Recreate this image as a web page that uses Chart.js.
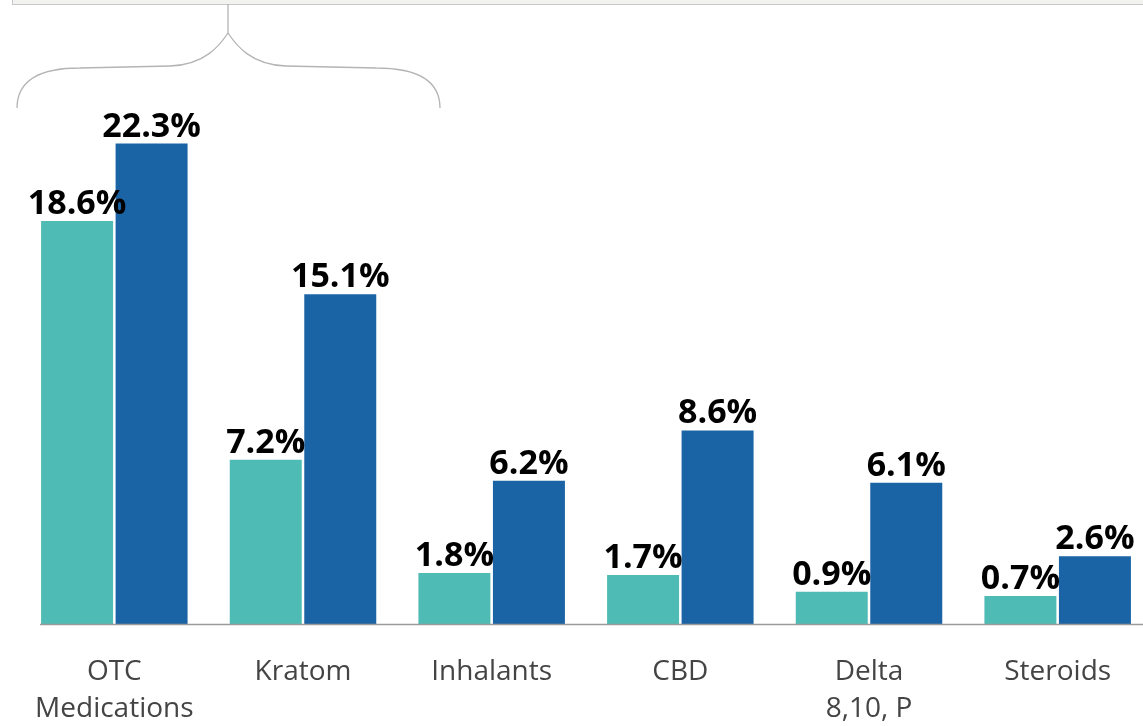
<!DOCTYPE html>
<html lang="en">
<head>
    <meta charset="UTF-8">
    <title>Substance use comparison</title>
    <script src="https://cdn.jsdelivr.net/npm/chart.js"></script>
    <style>
        html, body {
            margin: 0;
            padding: 0;
            background: #fff;
            overflow: hidden;
            width: 1143px;
            height: 726px;
        }
        .top-box {
            position: absolute;
            top: -20px;
            left: 12px;
            width: 1200px;
            height: 23px;
            background: #f2f2f0;
            border: 1.5px solid #c9c9c9;
        }
        #chart {
            position: absolute;
            top: 0;
            left: 0;
        }
    </style>
</head>
<body>
    <div class="top-box"></div>
    <canvas id="chart" width="1160" height="726"></canvas>

    <script>
        // Datos del gráfico
        const categories = [['OTC', 'Medications'], 'Kratom', 'Inhalants', 'CBD', ['Delta', '8,10, P'], 'Steroids'];
        const seriesA = [18.6, 7.2, 1.8, 1.7, 0.9, 0.7];
        const seriesB = [22.3, 15.1, 6.2, 8.6, 6.1, 2.6];
        const yMin = -0.64;
        const yMax = 25;

        // Etiquetas encima de las barras + línea base + llave
        const decoPlugin = {
            id: 'deco',
            afterDatasetsDraw(chart) {
                const ctx = chart.ctx;
                ctx.save();
                ctx.font = 'bold 34px "Open Sans", sans-serif';
                ctx.fillStyle = '#000';
                ctx.textAlign = 'center';
                ctx.textBaseline = 'alphabetic';
                chart.data.datasets.forEach((ds, i) => {
                    chart.getDatasetMeta(i).data.forEach((bar, j) => {
                        ctx.fillText(ds.data[j].toFixed(1) + '%', bar.x, bar.y - 7);
                    });
                });

                // línea base
                const first = chart.getDatasetMeta(0).data[0];
                const y0 = chart.scales.y.bottom;
                ctx.strokeStyle = '#9a9a9a';
                ctx.lineWidth = 1.5;
                ctx.beginPath();
                ctx.moveTo(first.x - first.width / 2 - 1, y0 + 0.5);
                ctx.lineTo(chart.width, y0 + 0.5);
                ctx.stroke();

                // llave superior
                ctx.strokeStyle = '#b4b4b4';
                ctx.lineWidth = 1.3;
                ctx.beginPath();
                ctx.moveTo(17, 108);
                ctx.bezierCurveTo(17, 80, 40, 68, 80, 68);
                ctx.lineTo(170, 66);
                ctx.bezierCurveTo(205, 65, 220, 45, 228, 33);
                ctx.lineTo(228, 4);
                ctx.moveTo(228, 33);
                ctx.bezierCurveTo(236, 45, 251, 65, 286, 66);
                ctx.lineTo(376, 68);
                ctx.bezierCurveTo(416, 68, 440, 80, 440, 108);
                ctx.stroke();
                ctx.restore();
            }
        };

        new Chart(document.getElementById('chart'), {
            type: 'bar',
            data: {
                labels: categories,
                datasets: [
                    { data: seriesA, backgroundColor: '#4ebcb5', base: yMin },
                    { data: seriesB, backgroundColor: '#1a63a5', base: yMin }
                ]
            },
            options: {
                responsive: false,
                animation: false,
                categoryPercentage: 0.79,
                barPercentage: 0.966,
                layout: { padding: { left: 20, right: 8, top: 87, bottom: 0 } },
                plugins: {
                    legend: { display: false },
                    tooltip: { enabled: false }
                },
                scales: {
                    x: {
                        grid: { display: false, drawTicks: false },
                        border: { display: false },
                        ticks: {
                            color: '#444',
                            font: { family: '"Open Sans", sans-serif', size: 28, lineHeight: 1.32 },
                            padding: 30,
                            maxRotation: 0,
                            autoSkip: false
                        },
                        afterFit: s => { s.height = 102; }
                    },
                    y: {
                        display: false,
                        min: yMin,
                        max: yMax
                    }
                }
            },
            plugins: [decoPlugin]
        });
    </script>
</body>
</html>
